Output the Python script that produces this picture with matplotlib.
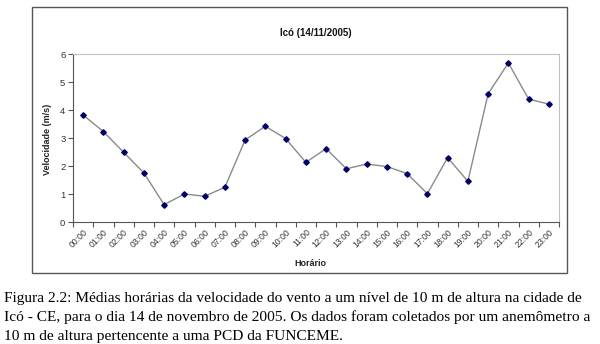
import matplotlib
matplotlib.use("Agg")
import matplotlib.pyplot as plt
from matplotlib.patches import Rectangle

hours = ["00:00", "01:00", "02:00", "03:00", "04:00", "05:00", "06:00", "07:00",
         "08:00", "09:00", "10:00", "11:00", "12:00", "13:00", "14:00", "15:00",
         "16:00", "17:00", "18:00", "19:00", "20:00", "21:00", "22:00", "23:00"]
velocidade = [3.82, 3.23, 2.49, 1.75, 0.62, 1.00, 0.92, 1.24,
              2.93, 3.42, 2.98, 2.13, 2.62, 1.90, 2.07, 1.98,
              1.73, 1.01, 2.30, 1.45, 4.58, 5.68, 4.39, 4.21]
yticks = [0, 1, 2, 3, 4, 5, 6]

title = "Icó (14/11/2005)"
ylabel = "Velocidade (m/s)"
xlabel = "Horário"
caption_lines = [
    "Figura 2.2: Médias horárias da velocidade do vento a um nível de 10 m de altura na cidade de",
    "Icó - CE, para o dia 14 de novembro de 2005. Os dados foram coletados por um anemômetro a",
    "10 m de altura pertencente a uma PCD da FUNCEME.",
]

W, H = 600, 344
fig = plt.figure(figsize=(W / 100, H / 100), dpi=100)
fig.patch.set_facecolor("white")

# outer chart frame
fig.patches.append(Rectangle((32 / W, 1 - 273 / H), 535 / W, 266 / H,
                             transform=fig.transFigure, fill=False,
                             edgecolor="#555555", linewidth=1.0))

ax = fig.add_axes([73 / W, 1 - 222 / H, 486 / W, 168 / H])
n = len(hours)
xs = [i + 0.5 for i in range(n)]
ax.plot(xs, velocidade, color="#8a8a8a", linewidth=1.0,
        marker="D", markersize=2.8, markerfacecolor="#000066",
        markeredgecolor="#000066", zorder=3)

ax.set_xlim(0, n)
ax.set_ylim(0, 6)
ax.set_yticks(yticks)
ax.set_yticklabels([str(v) for v in yticks], fontsize=6.8, color="#333333",
                   family="Liberation Sans")
ax.set_xticks(range(n + 1))
ax.set_xticklabels([])
ax.set_xticks(xs, minor=True)
ax.set_xticklabels(hours, minor=True, rotation=45, ha="right",
                   rotation_mode="anchor", fontsize=6.2, color="#333333",
                   family="Liberation Sans")
ax.tick_params(axis="x", which="minor", length=0, pad=4)
ax.tick_params(axis="x", which="major", length=3.5, direction="out",
               color="#555555", width=0.8)
ax.tick_params(axis="y", length=3.5, direction="out", color="#555555",
               width=0.8, pad=2)

for s in ["top", "right"]:
    ax.spines[s].set_color("#c0c0c0")
    ax.spines[s].set_linewidth(0.8)
for s in ["left", "bottom"]:
    ax.spines[s].set_color("#555555")
    ax.spines[s].set_linewidth(0.8)

fig.text(316 / W, 1 - 33 / H, title, ha="center", va="center",
         fontsize=7, fontweight="bold", family="Liberation Sans", color="#111111")
fig.text(48 / W, 1 - 139 / H, ylabel, ha="center", va="center", rotation=90,
         fontsize=6.5, fontweight="bold", family="Liberation Sans", color="#222222")
fig.text(310 / W, 1 - 264 / H, xlabel, ha="center", va="center",
         fontsize=6.5, fontweight="bold", family="Liberation Sans", color="#222222")

for i, line in enumerate(caption_lines):
    fig.text(4 / W, 1 - (302 + 19 * i) / H, line, ha="left", va="baseline",
             fontsize=11.1, family="Liberation Serif", color="#000000")

fig.savefig("out.png", dpi=100, facecolor="white")
